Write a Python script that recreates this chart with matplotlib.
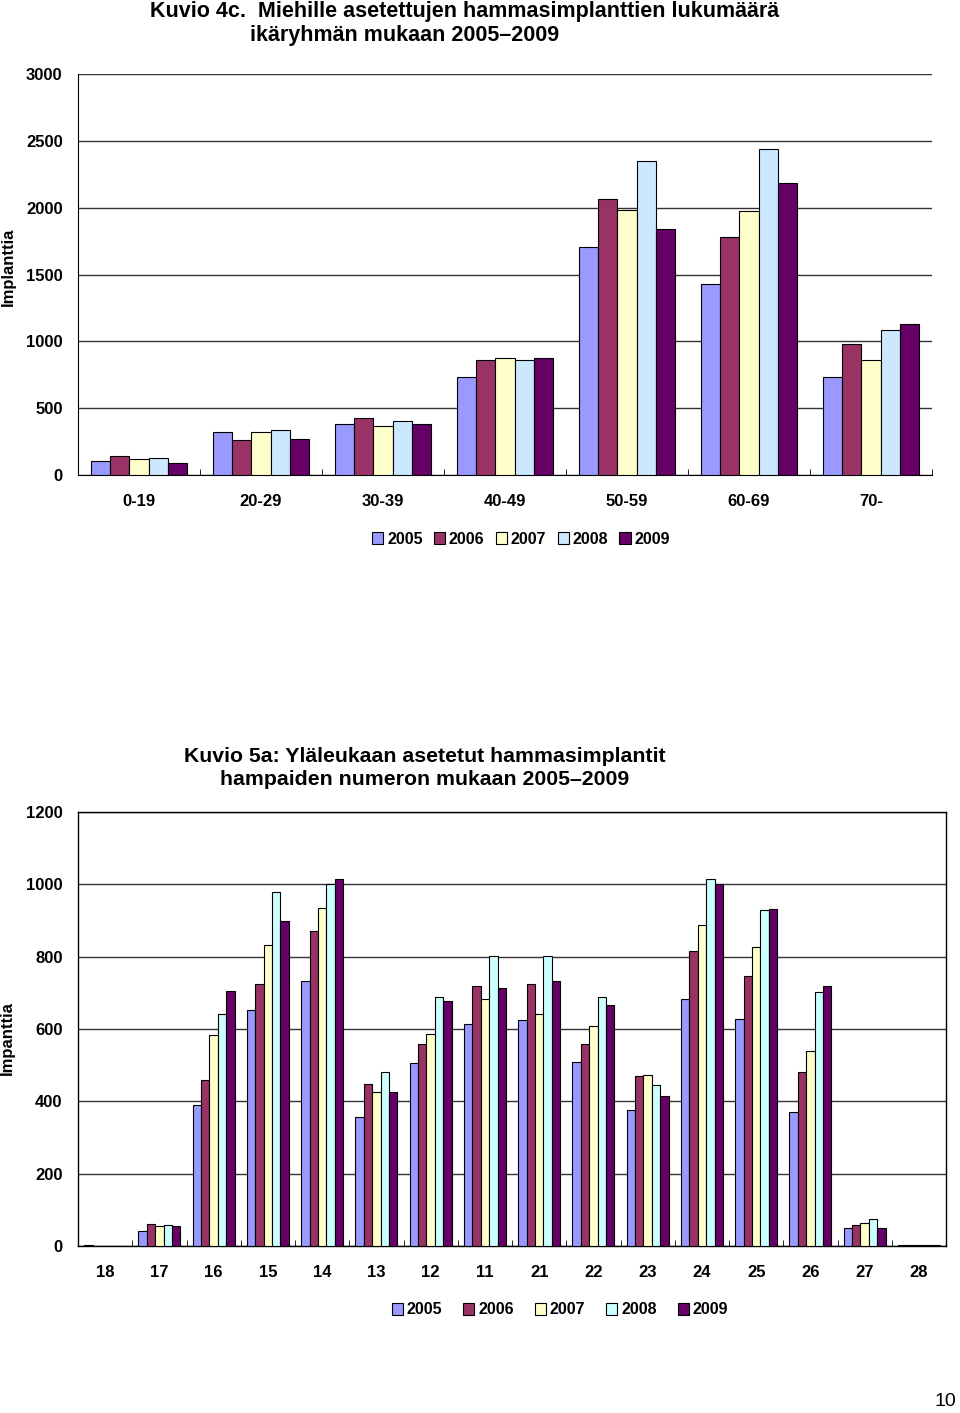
import numpy as np
import matplotlib.pyplot as plt
from matplotlib.patches import Patch

plt.rcParams['font.family'] = ['Liberation Sans', 'DejaVu Sans']

years = ['2005', '2006', '2007', '2008', '2009']

# Kuvio 4c: age groups
age_groups = ['0-19', '20-29', '30-39', '40-49', '50-59', '60-69', '70-']
age_2005 = [105, 322, 385, 737, 1705, 1430, 730]
age_2006 = [142, 262, 430, 860, 2065, 1780, 980]
age_2007 = [120, 322, 370, 875, 1985, 1975, 860]
age_2008 = [130, 337, 405, 860, 2352, 2442, 1085]
age_2009 = [92, 270, 385, 875, 1842, 2182, 1132]

# Kuvio 5a: tooth numbers
teeth = ['18', '17', '16', '15', '14', '13', '12', '11',
         '21', '22', '23', '24', '25', '26', '27', '28']
tooth_2005 = [3, 41, 391, 652, 732, 358, 505, 614, 625, 508, 377, 683, 627, 371, 49, 3]
tooth_2006 = [0, 61, 459, 724, 872, 449, 558, 718, 724, 558, 469, 816, 747, 480, 58, 3]
tooth_2007 = [0, 55, 583, 833, 936, 425, 586, 683, 641, 608, 472, 888, 828, 538, 63, 3]
tooth_2008 = [0, 58, 641, 978, 1002, 480, 689, 801, 801, 689, 446, 1016, 930, 702, 75, 3]
tooth_2009 = [0, 54, 706, 898, 1014, 425, 677, 714, 733, 666, 414, 1000, 933, 718, 50, 2]

colors_top = ['#9999FF', '#993366', '#FFFFCC', '#CCE8FF', '#660066']
colors_bot = ['#9999FF', '#993366', '#FFFFCC', '#CCFFFF', '#660066']

fig = plt.figure(figsize=(9.6, 14.13), dpi=100)


def grouped_bars(ax, cats, series, colors, width):
    x = np.arange(len(cats))
    for i, vals in enumerate(series):
        ax.bar(x + (i - 2) * width, vals, width, color=colors[i],
               edgecolor='black', linewidth=0.8, zorder=3)
    ax.set_xlim(-0.5, len(cats) - 0.5)
    ax.set_xticks(x)
    ax.set_xticklabels(cats)
    ax.set_xticks(np.arange(len(cats) + 1) - 0.5, minor=True)
    ax.tick_params(axis='x', which='major', length=0, pad=14, labelsize=12)
    ax.tick_params(axis='x', which='minor', direction='in', length=4)
    ax.tick_params(axis='y', length=0, pad=11, labelsize=12)
    for lbl in ax.get_xticklabels() + ax.get_yticklabels():
        lbl.set_fontweight('bold')
    ax.yaxis.grid(True, color='#333333', linewidth=1.0, zorder=0)
    ax.set_axisbelow(True)


# top chart
ax1 = fig.add_axes([0.08125, 0.6638, 0.8896, 0.2838])
grouped_bars(ax1, age_groups, [age_2005, age_2006, age_2007, age_2008, age_2009],
             colors_top, 0.156)
ax1.set_ylim(0, 3000)
ax1.set_yticks(range(0, 3001, 500))
ax1.spines['top'].set_visible(False)
ax1.spines['right'].set_visible(False)
ax1.set_ylabel('Implanttia', fontsize=12, fontweight='bold')
ax1.yaxis.set_label_coords(-0.073, 0.52)

fig.text(150 / 960, 1 - 12 / 1413, 'Kuvio 4c.  Miehille asetettujen hammasimplanttien lukumäärä',
         fontsize=15.5, fontweight='bold', ha='left', va='center')
fig.text(250 / 960, 1 - 36 / 1413, 'ikäryhmän mukaan 2005–2009',
         fontsize=15.5, fontweight='bold', ha='left', va='center')

handles_top = [Patch(facecolor=c, edgecolor='black', linewidth=0.8) for c in colors_top]
fig.legend(handles_top, years, loc='center', bbox_to_anchor=(521 / 960, 1 - 539 / 1413),
           ncol=5, frameon=False, handlelength=0.7, handleheight=0.7,
           handletextpad=0.25, columnspacing=0.7,
           prop={'size': 11.5, 'weight': 'bold'})

# bottom chart
ax2 = fig.add_axes([0.08125, 0.1182, 0.9042, 0.3071])
grouped_bars(ax2, teeth, [tooth_2005, tooth_2006, tooth_2007, tooth_2008, tooth_2009],
             colors_bot, 0.155)
ax2.set_ylim(0, 1200)
ax2.set_yticks(range(0, 1201, 200))
for s in ax2.spines.values():
    s.set_linewidth(1.0)
ax2.set_ylabel('Impanttia', fontsize=12, fontweight='bold')
ax2.yaxis.set_label_coords(-0.073, 0.48)

fig.text(425 / 960, 1 - 768 / 1413,
         'Kuvio 5a: Yläleukaan asetetut hammasimplantit\nhampaiden numeron mukaan 2005–2009',
         fontsize=15.3, fontweight='bold', ha='center', va='center', linespacing=1.3)

handles_bot = [Patch(facecolor=c, edgecolor='black', linewidth=0.8) for c in colors_bot]
fig.legend(handles_bot, years, loc='center', bbox_to_anchor=(560 / 960, 1 - 1310 / 1413),
           ncol=5, frameon=False, handlelength=0.7, handleheight=0.7,
           handletextpad=0.25, columnspacing=1.3,
           prop={'size': 11.5, 'weight': 'bold'})

fig.text(945 / 960, 1 - 1402 / 1413, '10', fontsize=14, ha='center', va='center')

fig.savefig('out.png', dpi=100)
